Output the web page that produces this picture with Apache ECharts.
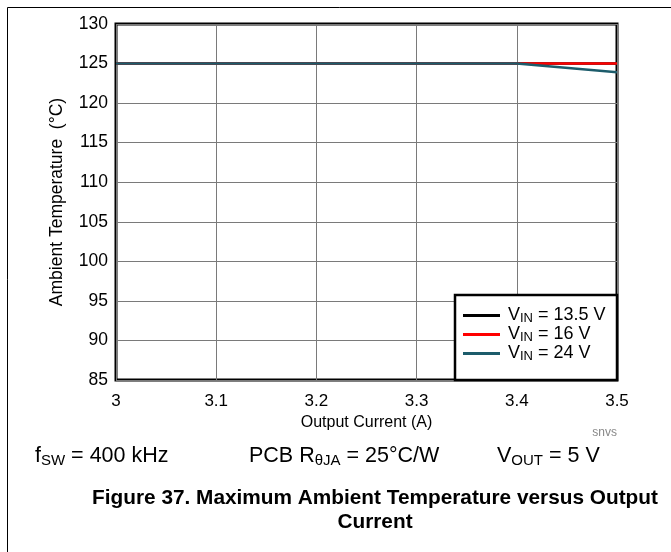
<!DOCTYPE html>
<html><head><meta charset="utf-8">
<script src="https://cdn.jsdelivr.net/npm/echarts@6/dist/echarts.min.js"></script>
<style>html,body{margin:0;padding:0;background:#fff}#c{width:671px;height:552px}</style>
</head><body><div id="c"></div>
<script>
const xValues = [3, 3.1, 3.2, 3.3, 3.4, 3.5];
const vin135 = [125, 125, 125, 125, 125, 125];
const vin16 = [125, 125, 125, 125, 125, 125];
const vin24 = [125, 125, 125, 125, 125, 123.9];
const seriesNames = ['13.5', '16', '24'];
const seriesData = [vin135, vin16, vin24];
const seriesColors = ['#000000', '#ff0000', '#1d5c6b'];
const F = '"Liberation Sans", Arial, sans-serif';

const sub = (a, s) => ({
  a: { fontSize: a, fill: '#000', color: '#000', fontFamily: F, lineHeight: 24 },
  s: { fontSize: s, fill: '#000', color: '#000', fontFamily: F, lineHeight: 24, verticalAlign: 'bottom', padding: [Math.round(a * 0.42), 0, 0, 0] }
});

const chart = echarts.init(document.getElementById('c'));
chart.setOption({
  animation: false,
  backgroundColor: '#fff',
  textStyle: { fontFamily: F },
  grid: { left: 116, right: 54, top: 24, bottom: 172, show: true, borderColor: '#000', borderWidth: 3, backgroundColor: 'transparent' },
  xAxis: {
    type: 'value', min: 3, max: 3.5, interval: 0.1,
    name: 'Output Current (A)', nameLocation: 'middle', nameGap: 35,
    nameTextStyle: { fontSize: 16, color: '#000', fontFamily: F },
    axisLine: { show: false }, axisTick: { show: false },
    axisLabel: { fontSize: 17, color: '#000', margin: 13, fontFamily: F },
    splitLine: { show: true, lineStyle: { color: '#7a7a7a', width: 1 } }
  },
  yAxis: {
    type: 'value', min: 85, max: 130, interval: 5,
    name: 'Ambient Temperature  (°C)', nameLocation: 'middle', nameGap: 50,
    nameTextStyle: { fontSize: 17.5, color: '#000', fontFamily: F },
    axisLine: { show: false }, axisTick: { show: false },
    axisLabel: { fontSize: 17.5, color: '#000', margin: 8, fontFamily: F },
    splitLine: { show: true, lineStyle: { color: '#7a7a7a', width: 1 } }
  },
  legend: {
    orient: 'vertical', left: 463, top: 306, z: 5,
    backgroundColor: 'transparent', borderWidth: 0,
    padding: 0, itemGap: 0, itemWidth: 37, itemHeight: 3,
    icon: 'rect',
    data: seriesNames,
    formatter: n => '{a|V}{s|IN}{a| = ' + n + ' V}',
    textStyle: {
      fontFamily: F, color: '#000', lineHeight: 19, padding: [0, 0, 0, 3],
      rich: {
        a: { fontSize: 18, fontFamily: F, color: '#000', lineHeight: 19 },
        s: { fontSize: 13, fontFamily: F, color: '#000', lineHeight: 19, verticalAlign: 'bottom', padding: [6, 0, 0, 0] }
      }
    }
  },
  series: seriesNames.map((n, i) => ({
    name: n, type: 'line', symbol: 'none',
    data: xValues.map((x, j) => [x, seriesData[i][j]]),
    lineStyle: { color: seriesColors[i], width: 2.5 },
    itemStyle: { color: seriesColors[i] }
  })),
  graphic: [
    { type: 'polyline', shape: { points: [[7.5, 552], [7.5, 7.5], [671, 7.5]] }, style: { stroke: '#000', lineWidth: 1, fill: null } },
    { type: 'rect', z: 4, shape: { x: 455, y: 295, width: 162, height: 85 }, style: { fill: '#fff', stroke: '#000', lineWidth: 2.5 } },
    { type: 'text', right: 54, top: 427, style: { text: 'snvs', fontSize: 12, fill: '#888', fontFamily: F } },
    { type: 'text', left: 35, top: 444, style: { text: '{a|f}{s|SW}{a| = 400 kHz}', fontFamily: F, rich: sub(21.5, 15) } },
    { type: 'text', left: 249, top: 444, style: { text: '{a|PCB R}{s|θJA}{a| = 25°C/W}', fontFamily: F, rich: sub(21.5, 15) } },
    { type: 'text', left: 497, top: 444, style: { text: '{a|V}{s|OUT}{a| = 5 V}', fontFamily: F, rich: sub(21.5, 15) } },
    { type: 'text', x: 375, y: 486, style: { text: 'Figure 37. Maximum Ambient Temperature versus Output\nCurrent', align: 'center', fontSize: 20.8, fontWeight: 'bold', fill: '#000', fontFamily: F, lineHeight: 24 } }
  ]
});
</script></body></html>
